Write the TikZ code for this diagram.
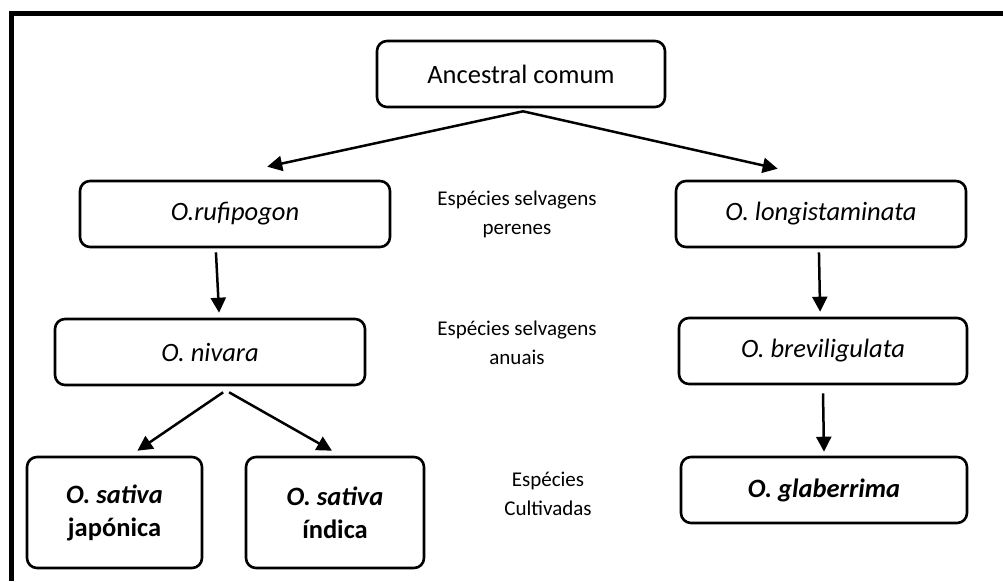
\documentclass[tikz,border=0pt]{standalone}
\usepackage{fontspec}
\setmainfont{Carlito}
\usetikzlibrary{arrows.meta,calc}

\tikzset{
  box/.style={draw, line width=2.6pt, rounded corners=10pt, align=center,
    inner sep=0pt, font=\fontsize{26.5}{33}\selectfont},
  arr/.style={-{Triangle[length=15pt,width=15pt]}, line width=2.5pt},
  lbl/.style={align=center, font=\fontsize{21}{29}\selectfont}
}

\begin{document}
\begin{tikzpicture}[x=1pt,y=-1pt]

        \useasboundingbox (0,0) rectangle (1003,581);

        % Frame
        \draw[line width=5pt] (11,581) -- (11,13) -- (1003,13);

        % Boxes
        \node[box, minimum width=288pt, minimum height=66pt] (anc) at (521,74) {Ancestral comum};

        \node[box, minimum width=310pt, minimum height=66pt] (rufi) at (235,214) {\textit{O.rufipogon}};
        \node[box, minimum width=290pt, minimum height=66pt] (longi) at (821,214) {\textit{O. longistaminata}};

        \node[box, minimum width=310pt, minimum height=66pt] (niv) at (210,352) {\textit{O. nivara}};
        \node[box, minimum width=288pt, minimum height=66pt] (brevi) at (823,351) {\textit{O. breviligulata}};

        \node[box, minimum width=175pt, minimum height=111pt] (jap) at (114.5,512.5) {\textbf{\textit{O. sativa}}\\\textbf{japónica}};
        \node[box, minimum width=178pt, minimum height=111pt] (ind) at (335,512.5) {\textbf{\textit{O. sativa}}\\\textbf{índica}};
        \node[box, minimum width=286pt, minimum height=66pt] (glab) at (824,490) {\textbf{\textit{O. glaberrima}}};

        % Labels
        \node[lbl] (per) at (517,214) {Espécies selvagens\\perenes};
        \node[lbl] (anu) at (517,343) {Espécies selvagens\\anuais};
        \node[lbl] (cult) at (548,494) {Espécies\\Cultivadas};

        % Arrows
        \draw[arr] ([yshift=-3pt]$(anc.south west)!0.507!(anc.south east)$)
            -- ([yshift=13pt]$(rufi.north west)!0.603!(rufi.north east)$);
        \draw[arr] ([yshift=-3pt]$(anc.south west)!0.507!(anc.south east)$)
            -- ([yshift=11pt]$(longi.north west)!0.352!(longi.north east)$);

        \draw[arr] ([yshift=-4pt]$(rufi.south west)!0.439!(rufi.south east)$)
            -- ([yshift=5pt]$(niv.north west)!0.529!(niv.north east)$);
        \draw[arr] ([yshift=-4pt]$(longi.south west)!0.493!(longi.south east)$)
            -- ([yshift=5pt]$(brevi.north west)!0.49!(brevi.north east)$);

        \draw[arr] ([yshift=-6pt]$(niv.south west)!0.542!(niv.south east)$)
            -- ([yshift=5pt]$(jap.north west)!0.629!(jap.north east)$);
        \draw[arr] ([yshift=-6pt]$(niv.south west)!0.561!(niv.south east)$)
            -- ([yshift=5pt]$(ind.north west)!0.483!(ind.north east)$);

        \draw[arr] ([yshift=-8pt]$(brevi.south west)!0.5!(brevi.south east)$)
            -- ([yshift=4pt]$(glab.north west)!0.5!(glab.north east)$);

\end{tikzpicture}
\end{document}
